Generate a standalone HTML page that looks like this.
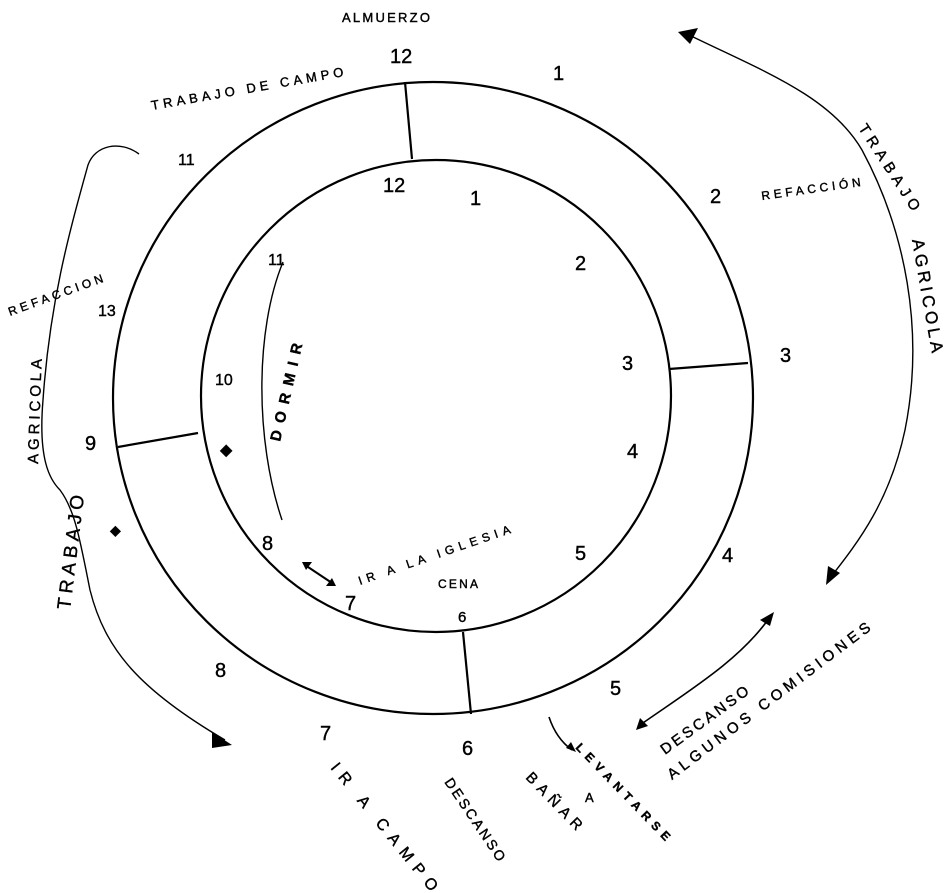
<!DOCTYPE html>
<html><head><meta charset="utf-8"><style>
html,body{margin:0;padding:0;background:#fff;width:948px;height:893px;overflow:hidden}
svg text{font-family:"Liberation Sans",sans-serif;fill:#000;stroke:#000;stroke-width:0.4}
.n{font-size:20px}
</style></head><body>
<svg width="948" height="893" viewBox="0 0 948 893" xmlns="http://www.w3.org/2000/svg">
<g fill="none" stroke="#000" stroke-width="2.2">
<ellipse cx="433" cy="398" rx="320" ry="316"/>
<ellipse cx="436" cy="396" rx="235" ry="236"/>
<line x1="405" y1="82" x2="412" y2="159"/>
<line x1="669" y1="369" x2="748" y2="363"/>
<line x1="118" y1="447" x2="198" y2="433"/>
<line x1="463" y1="632" x2="471" y2="714"/>
<path d="M139,154 C120,140 95,145 88,165 C70,230 50,300 43,400 C38,460 50,480 60,490 C75,510 80,540 90,590 C105,650 140,690 225,740" stroke-width="1.4"/>
<path d="M685,33 C760,70 830,95 862,150 C905,230 925,330 905,430 C890,500 860,540 830,578" stroke-width="1.4"/>
<path d="M283,262 C255,330 255,440 282,520" stroke-width="1.4"/>
<path d="M640,725 C690,690 740,660 770,617" stroke-width="1.6"/>
<path d="M549,717 C555,735 565,745 572,750" stroke-width="1.6"/>
<line x1="305" y1="565" x2="332" y2="583" stroke-width="2"/>
</g>
<g fill="#000">
<polygon points="678,32 698,28 690,44"/>
<polygon points="826,585 828,566 840,573"/>
<polygon points="232,745 212,732 212,748"/>
<polygon points="774,612 760,620 770,626"/>
<polygon points="636,730 640,718 648,726"/>
<polygon points="576,752 566,748 571,742"/>
<polygon points="302,562 312,562 306,570"/>
<polygon points="336,586 326,586 332,578"/>
</g>
<text x="342" y="22" font-size="13" textLength="88" lengthAdjust="spacing">ALMUERZO</text>
<text x="390" y="63" class="n">12</text>
<text x="553" y="80" class="n">1</text>
<text x="710" y="203" class="n">2</text>
<text x="780" y="362" class="n">3</text>
<text x="722" y="562" class="n">4</text>
<text x="610" y="695" class="n">5</text>
<text x="462" y="755" class="n">6</text>
<text x="320" y="740" class="n">7</text>
<text x="215" y="677" class="n">8</text>
<text x="85" y="450" class="n">9</text>
<text x="98" y="316" font-size="16">13</text>
<text x="178" y="165" font-size="16">11</text>
<text x="110" y="535" font-size="14">◆</text>
<text x="383" y="192" class="n">12</text>
<text x="470" y="205" class="n">1</text>
<text x="575" y="270" class="n">2</text>
<text x="622" y="370" class="n">3</text>
<text x="627" y="458" class="n">4</text>
<text x="575" y="560" class="n">5</text>
<text x="458" y="622" font-size="15">6</text>
<text x="345" y="610" class="n">7</text>
<text x="262" y="550" class="n">8</text>
<text x="220" y="455" font-size="16">◆</text>
<text x="215" y="385" font-size="16">10</text>
<text x="268" y="265" font-size="16">11</text>
<text x="438" y="588" font-size="12" textLength="40" lengthAdjust="spacing">CENA</text>
<text transform="translate(360,585) rotate(-19)" font-size="12" textLength="160" lengthAdjust="spacing">IR A LA IGLESIA</text>
<text transform="translate(280,442) rotate(-77)" font-size="15" font-weight="bold" textLength="100" lengthAdjust="spacing">DORMIR</text>
<text transform="translate(152,110) rotate(-10)" font-size="13" textLength="195" lengthAdjust="spacing">TRABAJO DE CAMPO</text>
<text transform="translate(762,200) rotate(-8)" font-size="12" textLength="100" lengthAdjust="spacing">REFACCIÓN</text>
<text transform="translate(10,316) rotate(-20)" font-size="12" textLength="100" lengthAdjust="spacing">REFACCION</text>
<text transform="translate(858,128) rotate(57)" font-size="15" textLength="100" lengthAdjust="spacing">TRABAJO</text>
<text transform="translate(912,240) rotate(80)" font-size="17" textLength="115" lengthAdjust="spacing">AGRICOLA</text>
<text transform="translate(70,610) rotate(-83)" font-size="19" textLength="115" lengthAdjust="spacing">TRABAJO</text>
<text transform="translate(38,464) rotate(-88)" font-size="15" textLength="105" lengthAdjust="spacing">AGRICOLA</text>
<text transform="translate(665,755) rotate(-36)" font-size="15" textLength="105" lengthAdjust="spacing">DESCANSO</text>
<text transform="translate(672,780) rotate(-37)" font-size="15" textLength="250" lengthAdjust="spacing">ALGUNOS COMISIONES</text>
<text transform="translate(575,748) rotate(46)" font-size="12" font-weight="bold" textLength="130" lengthAdjust="spacing">LEVANTARSE</text>
<text x="585" y="802" font-size="13">A</text>
<text transform="translate(525,778) rotate(46)" font-size="15" textLength="74" lengthAdjust="spacing">BAÑAR</text>
<text transform="translate(444,782) rotate(56)" font-size="14" textLength="97" lengthAdjust="spacing">DESCANSO</text>
<text transform="translate(330,768) rotate(51)" font-size="16" textLength="160" lengthAdjust="spacing">IR A CAMPO</text>
</svg>
</body></html>
